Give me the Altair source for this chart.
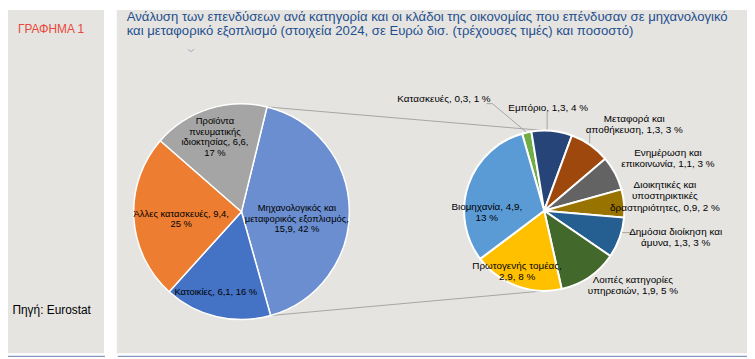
import math
import altair as alt
import pandas as pd

# ---------------- data ----------------
main_names = ["Μηχανολογικός και μεταφορικός εξοπλισμός", "Κατοικίες",
              "Άλλες κατασκευές", "Προϊόντα πνευματικής ιδιοκτησίας"]
main_values = [15.9, 6.1, 9.4, 6.6]
main_labels = [["Μηχανολογικός και", "μεταφορικός εξοπλισμός,", "15,9, 42 %"],
               ["Κατοικίες, 6,1, 16 %"],
               ["Άλλες κατασκευές, 9,4,", "25 %"],
               ["Προϊόντα", "πνευματικής", "ιδιοκτησίας, 6,6,", "17 %"]]
main_colors = ["#6a8ecf", "#4472c4", "#ed7d31", "#a5a5a5"]

sub_names = ["Κατασκευές", "Εμπόριο", "Μεταφορά και αποθήκευση",
             "Ενημέρωση και επικοινωνία",
             "Διοικητικές και υποστηρικτικές δραστηριότητες",
             "Δημόσια διοίκηση και άμυνα", "Λοιπές κατηγορίες υπηρεσιών",
             "Πρωτογενής τομέας", "Βιομηχανία"]
sub_values = [0.3, 1.3, 1.3, 1.1, 0.9, 1.3, 1.9, 2.9, 4.9]
sub_labels = [["Κατασκευές, 0,3, 1 %"],
              ["Εμπόριο, 1,3, 4 %"],
              ["Μεταφορά και", "αποθήκευση, 1,3, 3 %"],
              ["Ενημέρωση και", "επικοινωνία, 1,1, 3 %"],
              ["Διοικητικές και", "υποστηρικτικές", "δραστηριότητες, 0,9, 2 %"],
              ["Δημόσια διοίκηση και", "άμυνα, 1,3, 3 %"],
              ["Λοιπές κατηγορίες", "υπηρεσιών, 1,9, 5 %"],
              ["Πρωτογενής τομέας,", "2,9, 8 %"],
              ["Βιομηχανία, 4,9,", "13 %"]]
sub_colors = ["#70ad47", "#264478", "#9e480e", "#636363", "#997300",
              "#255e91", "#43682b", "#ffc000", "#5b9bd5"]

title_lines = ["Ανάλυση των επενδύσεων ανά κατηγορία και οι κλάδοι της οικονομίας που επένδυσαν σε μηχανολογικό",
               "και μεταφορικό εξοπλισμό (στοιχεία 2024, σε Ευρώ δισ. (τρέχουσες τιμές) και ποσοστό)"]
side_title = "ΓΡΑΦΗΜΑ 1"
source_text = "Πηγή: Eurostat"

# ---------------- layout / style ----------------
W, H = 747, 351
OFF = 8
FONT = "Liberation Sans"
PANEL = "#e5e4e0"
BLUE_LINE = "#8397c3"
GREY_LINE = "#a5a5a5"
TITLE_BLUE = "#1f4f8f"
RED = "#e8473b"

C1 = (244 - OFF, 212 - OFF); R1 = 109; START1 = 13.7
C2 = (550 - OFF, 211 - OFF); R2 = 81; START2 = -16.0
LH_MAIN = 10.8
LH_SUB = 11.2

# label placement: radius from centre along slice mid-angle + nudge
main_lab_place = [(56, 0, 8), (83, -7, 0), (61, 0, 4), (79, -3, 0)]
sub_lab_place = [(116, -76, 0), (104, -6, 0), (110, 28, 3), (120, 19, 3),
                 (120, 2.5, -3.4), (130, 10.5, -16.6), (110, 28, -15),
                 (62, -6, 3), (58, -3, 20)]


def slices(values, start):
    tot = sum(values)
    out = []
    a = start
    for v in values:
        span = 360.0 * v / tot
        out.append((a, a + span, a + span / 2))
        a += span
    return out


def polar(c, ang, r):
    t = math.radians(ang)
    return c[0] + r * math.sin(t), c[1] - r * math.cos(t)


one = pd.DataFrame({"d": [0]})


def rect(x, x2, y, y2, color):
    return alt.Chart(one).mark_rect(color=color).encode(
        x=alt.value(x), x2=alt.value(x2), y=alt.value(y), y2=alt.value(y2))


def pie(names, values, colors, center, radius, start, sw):
    df = pd.DataFrame({"name": names, "value": values, "idx": list(range(len(names)))})
    a0 = math.radians(start)
    return alt.Chart(df).mark_arc(outerRadius=radius, stroke="white", strokeWidth=sw).encode(
        theta=alt.Theta("value:Q", stack=True,
                        scale=alt.Scale(range=[a0, a0 + 2 * math.pi])),
        color=alt.Color("name:N", scale=alt.Scale(domain=names, range=colors), legend=None),
        order=alt.Order("idx:Q"),
        x=alt.value(center[0]), y=alt.value(center[1]),
    )


def label_rows(labels, values, center, start, place, lh):
    rows = []
    for lab, sl, (r, dx, dy) in zip(labels, slices(values, start), place):
        px, py = polar(center, sl[2], r)
        px += dx
        py += dy
        n = len(lab)
        for i, line in enumerate(lab):
            rows.append({"x": px, "y": py + (i - (n - 1) / 2) * lh, "text": line})
    return rows


main_lab_df = pd.DataFrame(label_rows(main_labels, main_values, C1, START1, main_lab_place, LH_MAIN))
sub_lab_df = pd.DataFrame(label_rows(sub_labels, sub_values, C2, START2, sub_lab_place, LH_SUB))

# leader lines for small-pie labels
sub_sl = slices(sub_values, START2)
anchors = {}
for i, (r, dx, dy) in enumerate(sub_lab_place):
    px, py = polar(C2, sub_sl[i][2], r)
    anchors[i] = (px + dx, py + dy)

segs = []
# Κατασκευές
ax, ay = anchors[0]
ex, ey = polar(C2, sub_sl[0][2], R2)
segs.append((ax + 43, ay + 5, ax + 49, ay + 5))
segs.append((ax + 49, ay + 5, ex, ey))
# Εμπόριο
ax, ay = anchors[1]
lx = ax - 1
segs.append((lx, ay + 4, lx, C2[1] - math.sqrt(R2 ** 2 - (lx - C2[0]) ** 2)))
# Μεταφορά
ax, ay = anchors[2]
lx = ax - 45
segs.append((lx, ay + 9, lx, C2[1] - math.sqrt(R2 ** 2 - (lx - C2[0]) ** 2)))
# Δημόσια
ax, ay = anchors[5]
ly = ay - 5
segs.append((C2[0] + math.sqrt(R2 ** 2 - (ly - C2[1]) ** 2), ly, ax - 44, ly))

# connectors between the pies
main_sl = slices(main_values, START1)
p_top = polar(C1, main_sl[0][0], R1)
p_bot = polar(C1, main_sl[0][1], R1)
segs.append((p_top[0], p_top[1], C2[0], C2[1] - R2))
segs.append((p_bot[0], p_bot[1], C2[0], C2[1] + R2))

seg_df = pd.DataFrame(segs, columns=["x", "y", "x2", "y2"])

rules = alt.Chart(seg_df).mark_rule(color=GREY_LINE, strokeWidth=1).encode(
    x=alt.X("x:Q", scale=None, axis=None), y=alt.Y("y:Q", scale=None, axis=None),
    x2="x2:Q", y2="y2:Q")


def text_layer(df, size):
    return alt.Chart(df).mark_text(font=FONT, fontSize=size, color="black",
                                   align="center", baseline="middle").encode(
        x=alt.X("x:Q", scale=None, axis=None), y=alt.Y("y:Q", scale=None, axis=None),
        text="text:N")


title_df = pd.DataFrame({"text": title_lines, "y": [11, 25]})
title = alt.Chart(title_df).mark_text(font=FONT, fontSize=13.3, color=TITLE_BLUE,
                                      align="left", baseline="alphabetic").encode(
    x=alt.value(120), y=alt.Y("y:Q", scale=None, axis=None), text="text:N")

side = alt.Chart(pd.DataFrame({"t": [side_title]})).mark_text(
    font=FONT, fontSize=12, color=RED, align="left", baseline="alphabetic").encode(
    x=alt.value(10), y=alt.value(23.5), text="t:N")
src = alt.Chart(pd.DataFrame({"t": [source_text]})).mark_text(
    font=FONT, fontSize=12, color="black", align="left", baseline="alphabetic").encode(
    x=alt.value(4.5), y=alt.value(307), text="t:N")

chev = alt.Chart(one).mark_point(shape="M-1,-0.4L0,0.4L1,-0.4", filled=False,
                                 color="#7f95c0", size=40, strokeWidth=1).encode(
    x=alt.value(185), y=alt.value(41))

chart = alt.layer(
    rect(0, 97, 0, 347, PANEL),
    rect(110, W, 0, 347, PANEL),
    rect(0, 98, 349.5, 351, BLUE_LINE),
    rect(111, W, 349.5, 351, BLUE_LINE),
    rules,
    pie(main_names, main_values, main_colors, C1, R1, START1, 1.5),
    pie(sub_names, sub_values, sub_colors, C2, R2, START2, 2),
    text_layer(main_lab_df, 9.5), text_layer(sub_lab_df, 10),
    title, side, src, chev,
).resolve_scale(theta="independent", color="independent").properties(
    width=W, height=H, padding=0, autosize=alt.AutoSizeParams(type="none"),
    background="white"
).configure_view(stroke=None)

chart.save("out.html", embed_options={"renderer": "svg", "actions": False})
